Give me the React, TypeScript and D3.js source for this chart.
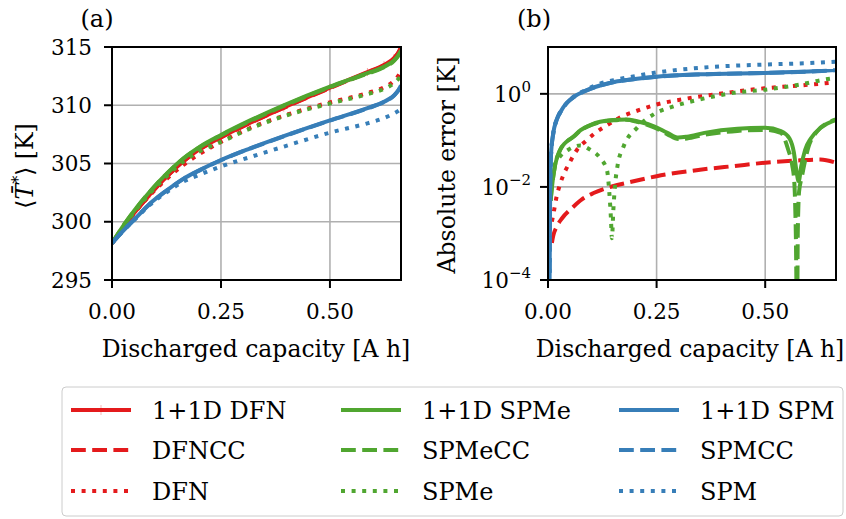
import React from "react";
import * as d3 from "d3";

// ---------- Panel (a): mean temperature vs discharged capacity ----------
const capA = [0, 0.025, 0.05, 0.087, 0.126, 0.164, 0.202, 0.25, 0.317, 0.394, 0.5, 0.586, 0.624, 0.647, 0.658, 0.663];
const tempDFN1D = [298.15, 299.45, 300.7, 302.35, 303.9, 305.2, 306.25, 307.25, 308.5, 309.8, 311.5, 312.85, 313.45, 314.05, 314.6, 315.0];
const tempDFNCC = [298.15, 299.45, 300.69, 302.34, 303.89, 305.19, 306.23, 307.23, 308.48, 309.78, 311.47, 312.81, 313.41, 314.01, 314.56, 314.97];
const tempDFN = [298.15, 299.45, 300.68, 302.28, 303.7, 304.88, 305.85, 306.85, 308.05, 309.1, 310.25, 311.05, 311.55, 312.1, 312.6, 312.95];
const tempSPMe1D = [298.15, 299.6, 300.9, 302.6, 304.15, 305.45, 306.45, 307.45, 308.7, 310.0, 311.6, 312.75, 313.3, 313.85, 314.35, 314.7];
const tempSPMeCC = [298.15, 299.6, 300.89, 302.58, 304.13, 305.43, 306.42, 307.41, 308.65, 309.95, 311.56, 312.72, 313.27, 313.82, 314.32, 314.67];
const tempSPMe = [298.15, 299.5, 300.78, 302.44, 303.93, 305.18, 306.07, 306.85, 308.0, 309.05, 310.15, 310.95, 311.4, 311.9, 312.3, 312.55];
const tempSPM1D = [298.15, 299.2, 300.15, 301.55, 302.7, 303.7, 304.45, 305.3, 306.3, 307.35, 308.7, 309.75, 310.3, 310.85, 311.35, 311.7];
const tempSPMCC = [298.15, 299.2, 300.14, 301.54, 302.69, 303.68, 304.43, 305.28, 306.28, 307.33, 308.68, 309.73, 310.28, 310.83, 311.33, 311.68];
const tempSPM = [298.15, 299.2, 300.12, 301.45, 302.55, 303.45, 304.05, 304.75, 305.55, 306.45, 307.65, 308.45, 308.9, 309.3, 309.55, 309.7];

// ---------- Panel (b): absolute error vs discharged capacity ----------
const capDFNCC = [0.009, 0.012, 0.02, 0.032, 0.055, 0.078, 0.105, 0.147, 0.197, 0.25, 0.35, 0.43, 0.5, 0.58, 0.627, 0.663];
const errDFNCC = [0.00063, 0.00089, 0.0014, 0.0021, 0.0035, 0.0054, 0.0074, 0.0102, 0.0132, 0.017, 0.0234, 0.0282, 0.0331, 0.0372, 0.0389, 0.0331];
const capDFN = [0.009, 0.013, 0.02, 0.03, 0.051, 0.067, 0.086, 0.109, 0.14, 0.167, 0.2, 0.25, 0.32, 0.4, 0.5, 0.58, 0.663];
const errDFN = [0.0018, 0.0028, 0.0063, 0.0132, 0.035, 0.063, 0.095, 0.145, 0.224, 0.316, 0.417, 0.589, 0.794, 1.02, 1.32, 1.51, 1.78];
const capSPMe1D = [0.006, 0.008, 0.011, 0.016, 0.028, 0.04, 0.058, 0.075, 0.1, 0.12, 0.15, 0.18, 0.205, 0.244, 0.275, 0.3, 0.32, 0.36, 0.436, 0.5, 0.536, 0.556, 0.566, 0.572, 0.577, 0.583, 0.592, 0.605, 0.628, 0.663];
const errSPMe1D = [0.005, 0.0079, 0.0141, 0.0282, 0.063, 0.089, 0.12, 0.166, 0.219, 0.251, 0.275, 0.282, 0.257, 0.2, 0.145, 0.115, 0.12, 0.145, 0.178, 0.186, 0.158, 0.11, 0.055, 0.022, 0.0132, 0.028, 0.063, 0.11, 0.186, 0.275];
const capSPMeCC = [0.006, 0.008, 0.011, 0.016, 0.028, 0.04, 0.058, 0.075, 0.1, 0.12, 0.15, 0.18, 0.205, 0.244, 0.275, 0.3, 0.32, 0.36, 0.436, 0.5, 0.536, 0.553, 0.562, 0.567, 0.5705, 0.5735, 0.575, 0.578, 0.584, 0.6, 0.62, 0.645, 0.663];
const errSPMeCC = [0.005, 0.0079, 0.0141, 0.028, 0.062, 0.088, 0.118, 0.163, 0.215, 0.246, 0.27, 0.277, 0.25, 0.19, 0.135, 0.107, 0.11, 0.132, 0.16, 0.168, 0.145, 0.063, 0.03, 0.0126, 0.001, 0.00001, 0.001, 0.0079, 0.0158, 0.074, 0.158, 0.24, 0.282];
const capSPMe = [0.005, 0.009, 0.013, 0.028, 0.047, 0.074, 0.097, 0.12, 0.136, 0.141, 0.145, 0.147, 0.151, 0.155, 0.16, 0.174, 0.205, 0.243, 0.289, 0.35, 0.427, 0.5, 0.58, 0.638, 0.663];
const errSPMe = [0.01, 0.0234, 0.0275, 0.0457, 0.063, 0.0776, 0.063, 0.0417, 0.0224, 0.0079, 0.002, 0.00079, 0.004, 0.0126, 0.0282, 0.074, 0.186, 0.363, 0.537, 0.759, 1.05, 1.23, 1.58, 2.04, 2.19];
const capSPM1D = [0.0035, 0.005, 0.007, 0.012, 0.02, 0.03, 0.044, 0.06, 0.082, 0.12, 0.16, 0.2, 0.25, 0.35, 0.5, 0.6, 0.663];
const errSPM1D = [0.00005, 0.01, 0.05, 0.14, 0.28, 0.43, 0.65, 0.87, 1.12, 1.51, 1.86, 2.09, 2.34, 2.63, 2.82, 3.02, 3.24];
const errSPMCC = [0.00005, 0.0098, 0.049, 0.138, 0.277, 0.425, 0.645, 0.86, 1.11, 1.5, 1.85, 2.08, 2.33, 2.62, 2.81, 3.01, 3.23];
const errSPM = [0.00005, 0.01, 0.05, 0.14, 0.28, 0.43, 0.65, 0.88, 1.15, 1.66, 2.04, 2.4, 2.88, 3.63, 4.27, 4.57, 4.9];

// ---------- ticks & labels ----------
const xTicks = [0, 0.25, 0.5];
const xTickLabels = ["0.00", "0.25", "0.50"];
const yTicksA = [295, 300, 305, 310, 315];
const yTickExpB = [-4, -2, 0];
const legendNames = ["1+1D DFN", "DFNCC", "DFN", "1+1D SPMe", "SPMeCC", "SPMe", "1+1D SPM", "SPMCC", "SPM"];

// ---------- styles ----------
const RED = "#e41a1c";
const GREEN = "#50a630";
const BLUE = "#377eb8";
const LW = 4;
const DASHES: Record<string, string | undefined> = { solid: undefined, dashed: "14.8 6.4", dotted: "4 6.6" };
const FONT = "'DejaVu Serif', serif";

type Series = { name: string; color: string; style: string; x: number[]; y: number[]; hair?: boolean };

const seriesA: Series[] = [
  { name: legendNames[0], color: RED, style: "solid", x: capA, y: tempDFN1D, hair: true },
  { name: legendNames[1], color: RED, style: "dashed", x: capA, y: tempDFNCC },
  { name: legendNames[2], color: RED, style: "dotted", x: capA, y: tempDFN },
  { name: legendNames[3], color: GREEN, style: "solid", x: capA, y: tempSPMe1D },
  { name: legendNames[4], color: GREEN, style: "dashed", x: capA, y: tempSPMeCC },
  { name: legendNames[5], color: GREEN, style: "dotted", x: capA, y: tempSPMe },
  { name: legendNames[6], color: BLUE, style: "solid", x: capA, y: tempSPM1D },
  { name: legendNames[7], color: BLUE, style: "dashed", x: capA, y: tempSPMCC },
  { name: legendNames[8], color: BLUE, style: "dotted", x: capA, y: tempSPM },
];

const seriesB: Series[] = [
  { name: legendNames[1], color: RED, style: "dashed", x: capDFNCC, y: errDFNCC },
  { name: legendNames[2], color: RED, style: "dotted", x: capDFN, y: errDFN },
  { name: legendNames[3], color: GREEN, style: "solid", x: capSPMe1D, y: errSPMe1D },
  { name: legendNames[4], color: GREEN, style: "dashed", x: capSPMeCC, y: errSPMeCC },
  { name: legendNames[5], color: GREEN, style: "dotted", x: capSPMe, y: errSPMe },
  { name: legendNames[6], color: BLUE, style: "solid", x: capSPM1D, y: errSPM1D },
  { name: legendNames[7], color: BLUE, style: "dashed", x: capSPM1D, y: errSPMCC },
  { name: legendNames[8], color: BLUE, style: "dotted", x: capSPM1D, y: errSPM },
];

const TOP = 47;
const BOTTOM = 280;
const A = { left: 112, right: 401 };
const B = { left: 548, right: 836 };

const xA = d3.scaleLinear().domain([0, 0.663]).range([A.left, A.right]);
const yA = d3.scaleLinear().domain([295, 315]).range([BOTTOM, TOP]);
const xB = d3.scaleLinear().domain([0, 0.663]).range([B.left, B.right]);
const yB = d3.scaleLog().domain([1e-4, 10.15]).range([BOTTOM, TOP]);

function Lines({ series, xs, ys, clip }: { series: Series[]; xs: any; ys: any; clip: string }) {
  return (
    <g clipPath={`url(#${clip})`}>
      {series.map((s, i) => {
        const pts = s.x.map((v, j) => [v, s.y[j]] as [number, number]);
        const line = d3
          .line<[number, number]>()
          .x((d) => xs(d[0]))
          .y((d) => ys(d[1]))
          .curve(d3.curveMonotoneX);
        return (
          <g key={i}>
            <path
              d={line(pts) || ""}
              fill="none"
              stroke={s.color}
              strokeWidth={LW}
              strokeDasharray={DASHES[s.style]}
              strokeLinecap="butt"
              strokeLinejoin="round"
            />
            {s.hair &&
              pts.map((p, j) => (
                <line
                  key={j}
                  x1={xs(p[0])}
                  x2={xs(p[0])}
                  y1={ys(p[1]) - 4}
                  y2={ys(p[1]) + 4}
                  stroke={s.color}
                  strokeOpacity={0.5}
                  strokeWidth={0.8}
                />
              ))}
          </g>
        );
      })}
    </g>
  );
}

function Frame({ left, right, xs }: { left: number; right: number; xs: any }) {
  return (
    <g>
      <rect x={left} y={TOP} width={right - left} height={BOTTOM - TOP} fill="none" stroke="#000" strokeWidth={2} />
      {xTicks.map((t, i) => (
        <g key={i}>
          <line x1={xs(t)} x2={xs(t)} y1={BOTTOM} y2={BOTTOM + 8} stroke="#000" strokeWidth={2} />
          <text x={xs(t)} y={319} textAnchor="middle" fontSize={21.5} fontFamily={FONT}>
            {xTickLabels[i]}
          </text>
        </g>
      ))}
    </g>
  );
}

function Grid({ left, right, xs, yVals }: { left: number; right: number; xs: any; yVals: number[] }) {
  return (
    <g stroke="#b0b0b0" strokeWidth={1.6}>
      {xTicks.map((t, i) => (
        <line key={"x" + i} x1={xs(t)} x2={xs(t)} y1={TOP} y2={BOTTOM} />
      ))}
      {yVals.map((v, i) => (
        <line key={"y" + i} x1={left} x2={right} y1={v} y2={v} />
      ))}
    </g>
  );
}

function Legend() {
  const x0 = 62;
  const y0 = 387;
  const colX = [71, 341, 619];
  const rowY = [410, 450, 491];
  const colors = [RED, GREEN, BLUE];
  const styles = ["solid", "dashed", "dotted"];
  const hl = 60;
  return (
    <g>
      <rect x={x0} y={y0} width={781} height={129} rx={4} fill="#fff" fillOpacity={0.8} stroke="#cccccc" strokeWidth={1} />
      {legendNames.map((n, k) => {
        const c = Math.floor(k / 3);
        const r = k % 3;
        const hx = colX[c];
        const hy = rowY[r];
        return (
          <g key={k}>
            <line x1={hx} x2={hx + hl} y1={hy} y2={hy} stroke={colors[c]} strokeWidth={LW} strokeDasharray={DASHES[styles[r]]} />
            {k === 0 && (
              <line x1={hx + hl / 2} x2={hx + hl / 2} y1={hy - 5} y2={hy + 5} stroke={RED} strokeOpacity={0.4} strokeWidth={0.8} />
            )}
            <text x={hx + 81} y={hy + 8.5} fontSize={24} fontFamily={FONT}>
              {n}
            </text>
          </g>
        );
      })}
    </g>
  );
}

export default function App() {
  return (
    <svg width={846} height={519} style={{ position: "absolute", left: 0, top: 0, background: "#fff" }}>
      <defs>
        <clipPath id="clipA">
          <rect x={A.left} y={TOP} width={A.right - A.left} height={BOTTOM - TOP} />
        </clipPath>
        <clipPath id="clipB">
          <rect x={B.left} y={TOP} width={B.right - B.left} height={BOTTOM - TOP} />
        </clipPath>
      </defs>
      <rect x={0} y={0} width={846} height={519} fill="#fff" />

      {/* Panel (a) */}
      <Grid left={A.left} right={A.right} xs={xA} yVals={yTicksA.map((t) => yA(t))} />
      <Lines series={seriesA} xs={xA} ys={yA} clip="clipA" />
      <Frame left={A.left} right={A.right} xs={xA} />
      {yTicksA.map((t, i) => (
        <g key={i}>
          <line x1={A.left - 8} x2={A.left} y1={yA(t)} y2={yA(t)} stroke="#000" strokeWidth={2} />
          <text x={92} y={yA(t) + 7.5} textAnchor="end" fontSize={21.5} fontFamily={FONT}>
            {t}
          </text>
        </g>
      ))}
      <text x={97} y={27} textAnchor="middle" fontSize={24} fontFamily={FONT}>(a)</text>
      <text x={256} y={357} textAnchor="middle" fontSize={23.5} fontFamily={FONT}>
        Discharged capacity [A h]
      </text>
      <text transform="translate(33,166) rotate(-90)" textAnchor="middle" fontSize={23.5} fontFamily={FONT}>
        {"\u27E8"}
        <tspan fontStyle="italic">{"T\u0304"}</tspan>
        <tspan dy={-9} fontSize={16}>*</tspan>
        <tspan dy={9}>{"\u27E9 [K]"}</tspan>
      </text>

      {/* Panel (b) */}
      <Grid left={B.left} right={B.right} xs={xB} yVals={yTickExpB.map((e) => yB(Math.pow(10, e)))} />
      <Lines series={seriesB} xs={xB} ys={yB} clip="clipB" />
      <Frame left={B.left} right={B.right} xs={xB} />
      {yTickExpB.map((e, i) => (
        <g key={i}>
          <line x1={B.left - 8} x2={B.left} y1={yB(Math.pow(10, e))} y2={yB(Math.pow(10, e))} stroke="#000" strokeWidth={2} />
          <text x={531} y={yB(Math.pow(10, e)) + 8} textAnchor="end" fontSize={21.5} fontFamily={FONT}>
            10
            <tspan dy={-10} fontSize={15}>{e === 0 ? "0" : "\u2212" + Math.abs(e)}</tspan>
          </text>
        </g>
      ))}
      <text x={534} y={27} textAnchor="middle" fontSize={24} fontFamily={FONT}>(b)</text>
      <text x={690} y={357} textAnchor="middle" fontSize={23.5} fontFamily={FONT}>
        Discharged capacity [A h]
      </text>
      <text transform="translate(455,165) rotate(-90)" textAnchor="middle" fontSize={23.5} fontFamily={FONT}>
        Absolute error [K]
      </text>

      <Legend />
    </svg>
  );
}
